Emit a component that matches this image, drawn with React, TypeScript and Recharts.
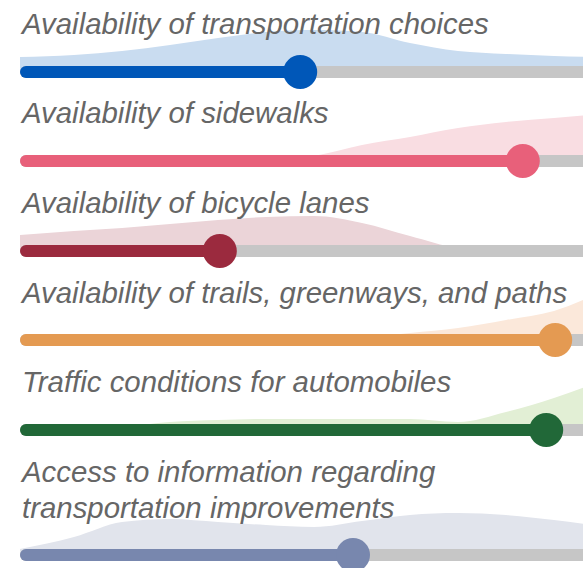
import { ComposedChart, Area, XAxis, YAxis, ReferenceLine, ReferenceDot } from "recharts"

const labels = [
  "Availability of transportation choices",
  "Availability of sidewalks",
  "Availability of bicycle lanes",
  "Availability of trails, greenways, and paths",
  "Traffic conditions for automobiles",
  "Access to information regarding transportation improvements",
]

// average score on a 0-100 scale
const scores = [45.7, 82.8, 32.3, 88.2, 86.7, 54.5]

// density of responses, sampled along the same 0-100 scale
const densityX = [-1, 8, 16, 24, 32, 40, 48, 56, 64, 72, 80, 88, 96, 100]
const transportDensity = [15, 17, 21, 27, 34, 40, 42, 40, 29, 21, 18, 16, 15, 15]
const sidewalkDensity = [0, 0, 0, 0, 0, 0, 5, 16, 24, 33, 39, 43, 47, 48]
const bicycleDensity = [16, 20, 23, 27, 31, 34, 35, 28, 15, 3, 0, 0, 0, 0]
const trailDensity = [0, 0, 0, 0, 0, 0, 0, 2, 7, 12, 20, 29, 48, 58]
const trafficDensity = [0, 0, 3, 8, 10, 11, 11, 11, 11, 8, 18, 32, 49, 57]
const infoDensity = [6, 18, 33, 36, 33, 30, 28, 34, 40, 42, 40, 35, 29, 27]

const densities = [
  transportDensity,
  sidewalkDensity,
  bicycleDensity,
  trailDensity,
  trafficDensity,
  infoDensity,
]

const barColors = ["#0057b8", "#e8607a", "#9b2a3e", "#e49a52", "#216838", "#7887ae"]
const areaColors = ["#c9dcf0", "#f9dde2", "#ebd4d8", "#fbe8da", "#e2efd5", "#e1e4ec"]
const trackColor = "#c6c6c6"

function SliderRow({ index }: { index: number }) {
  const data = densityX.map((x, i) => ({ x, d: densities[index][i] }))
  const score = scores[index]
  const color = barColors[index]

  return (
    <div style={{ paddingTop: 5.9 }}>
      <div
        style={{
          position: "relative",
          zIndex: 1,
          paddingLeft: 22,
          width: 565,
          fontFamily: "'Liberation Sans', Arial, sans-serif",
          fontStyle: "italic",
          fontSize: 29.4,
          lineHeight: "36px",
          color: "#666",
        }}
      >
        {labels[index]}
      </div>
      <div style={{ position: "relative", height: 47.7 }}>
        <div style={{ position: "absolute", left: 0, top: -60.3 }}>
          <ComposedChart
            width={646}
            height={110}
            data={data}
            margin={{ top: 20, right: 20, bottom: 20, left: 20 }}
          >
            <XAxis type="number" dataKey="x" domain={[-1, 100]} hide />
            <YAxis type="number" domain={[0, 70]} hide />
            <Area
              type="monotone"
              dataKey="d"
              stroke="none"
              fill={areaColors[index]}
              fillOpacity={1}
              isAnimationActive={false}
            />
            <ReferenceLine
              segment={[{ x: 0, y: 0 }, { x: 100, y: 0 }]}
              stroke={trackColor}
              strokeWidth={12}
              strokeLinecap="round"
            />
            <ReferenceLine
              segment={[{ x: 0, y: 0 }, { x: score, y: 0 }]}
              stroke={color}
              strokeWidth={12}
              strokeLinecap="round"
            />
            <ReferenceDot x={score} y={0} r={17} fill={color} stroke={color} strokeWidth={0} />
          </ComposedChart>
        </div>
      </div>
    </div>
  )
}

export default function App() {
  return (
    <div
      style={{
        position: "absolute",
        left: 0,
        top: 0,
        width: 583,
        height: 568,
        overflow: "hidden",
        background: "#fff",
      }}
    >
      {labels.map((_, i) => (
        <SliderRow key={i} index={i} />
      ))}
    </div>
  )
}
